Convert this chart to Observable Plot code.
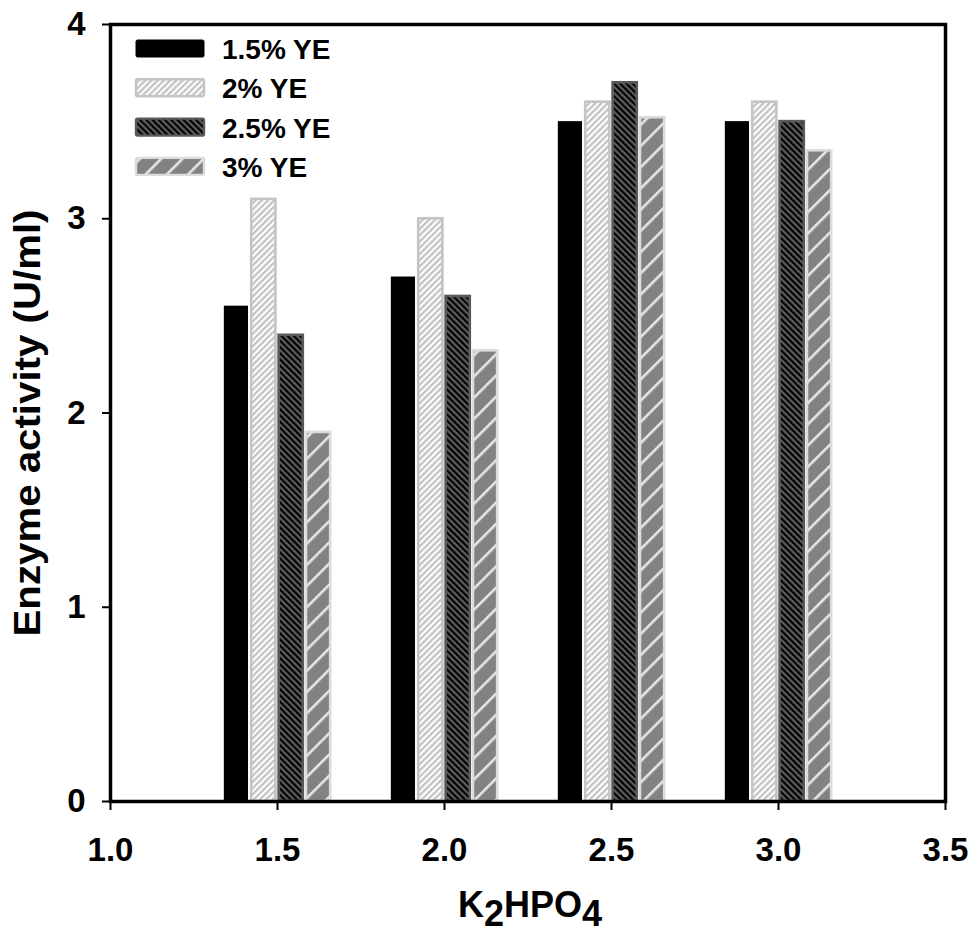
<!DOCTYPE html>
<html>
<head>
<meta charset="utf-8">
<script src="https://cdn.jsdelivr.net/npm/d3@7"></script>
<script src="https://cdn.jsdelivr.net/npm/@observablehq/plot@0.6"></script>
<style>
  html, body { margin: 0; padding: 0; background: #fff; }
  #chart svg { display: block; }
</style>
</head>
<body>
<div id="chart"></div>
<script>
// ---- data ----
const k2hpo4 = [1.5, 2.0, 2.5, 3.0];
const seriesNames = ["1.5% YE", "2% YE", "2.5% YE", "3% YE"];
const ye15 = [2.55, 2.70, 3.50, 3.50];
const ye2 = [3.10, 3.00, 3.60, 3.60];
const ye25 = [2.40, 2.60, 3.70, 3.50];
const ye3 = [1.90, 2.32, 3.52, 3.35];
const yTicks = [0, 1, 2, 3, 4];
const xTicks = [1.0, 1.5, 2.0, 2.5, 3.0, 3.5];

const seriesValues = [ye15, ye2, ye25, ye3];
const fills = ["#000000", "url(#pat2)", "url(#pat25)", "url(#pat3)"];
const strokes = ["none", "#c4c4c4", "#5a5a5a", "#dcdcdc"];

const slot = 0.082;
const rows = [];
seriesNames.forEach((s, i) => {
  k2hpo4.forEach((x, j) => {
    const x1 = x - 2 * slot + i * slot;
    rows.push({series: s, si: i, x, x1, x2: x1 + slot, y: seriesValues[i][j]});
  });
});

const font = "'Liberation Sans', Arial, Helvetica, sans-serif";

const barMarks = seriesNames.map((s, i) =>
  Plot.rectY(rows.filter(d => d.si === i), {
    x1: "x1", x2: "x2", y1: 0, y2: "y",
    fill: fills[i],
    stroke: strokes[i],
    strokeWidth: i === 0 ? 0 : 2.6,
    insetLeft: 1.6, insetRight: 1.6
  })
);

const svg = Plot.plot({
  width: 974,
  height: 938,
  marginLeft: 110,
  marginRight: 29,
  marginTop: 24,
  marginBottom: 137,
  style: {fontFamily: font, fontSize: "33px", fontWeight: "bold", background: "#fff", color: "#000"},
  x: {domain: [1.0, 3.5]},
  y: {domain: [0, 4]},
  marks: [
    ...barMarks,
    Plot.frame({stroke: "#000", strokeWidth: 3.5}),
    Plot.axisY({ticks: yTicks, tickFormat: d3.format("d"), tickSize: 8, tickPadding: 17,
      fontSize: 33, fontWeight: "bold", strokeWidth: 2, label: null}),
    Plot.axisX({ticks: xTicks, tickFormat: d3.format(".1f"), tickSize: 9, tickPadding: 27,
      fontSize: 33, fontWeight: "bold", strokeWidth: 2, label: null})
  ]
});

// ---- patterns ----
const root = d3.select(svg);
const defs = root.insert("defs", ":first-child");
const p2 = defs.append("pattern").attr("id", "pat2").attr("patternUnits", "userSpaceOnUse")
  .attr("width", 4.4).attr("height", 4.4).attr("patternTransform", "rotate(45)");
p2.append("rect").attr("width", 4.4).attr("height", 4.4).attr("fill", "#ffffff");
p2.append("rect").attr("width", 2.3).attr("height", 4.4).attr("fill", "#c4c4c4");

const p25 = defs.append("pattern").attr("id", "pat25").attr("patternUnits", "userSpaceOnUse")
  .attr("width", 4.4).attr("height", 4.4).attr("patternTransform", "rotate(-45)");
p25.append("rect").attr("width", 4.4).attr("height", 4.4).attr("fill", "#5c5c5c");
p25.append("rect").attr("width", 2.1).attr("height", 4.4).attr("fill", "#000000");

const p3 = defs.append("pattern").attr("id", "pat3").attr("patternUnits", "userSpaceOnUse")
  .attr("width", 15).attr("height", 15).attr("patternTransform", "rotate(45)");
p3.append("rect").attr("width", 15).attr("height", 15).attr("fill", "#828282");
p3.append("rect").attr("width", 2.6).attr("height", 15).attr("fill", "#e6e6e6");

// ---- legend ----
const lg = root.append("g").attr("font-family", font).attr("text-anchor", "start");
seriesNames.forEach((s, i) => {
  const y = 40 + i * 39.3;
  lg.append("rect").attr("x", 136).attr("y", y).attr("width", 68).attr("height", 17)
    .attr("rx", 1.5)
    .attr("fill", fills[i]).attr("stroke", i === 0 ? "#000" : strokes[i])
    .attr("stroke-width", i === 0 ? 1 : 2.4);
  lg.append("text").attr("x", 222).attr("y", y + 19).attr("font-size", 28)
    .attr("font-weight", "bold").attr("text-anchor", "start").attr("fill", "#000").text(s);
});

// ---- axis titles ----
root.append("text")
  .attr("transform", "translate(40,423) rotate(-90)")
  .attr("text-anchor", "middle")
  .attr("font-family", font).attr("font-size", 36).attr("font-weight", "bold")
  .attr("textLength", 427).attr("lengthAdjust", "spacingAndGlyphs")
  .attr("fill", "#000")
  .text("Enzyme activity (U/ml)");

const xt = root.append("text")
  .attr("x", 530).attr("y", 917)
  .attr("text-anchor", "middle")
  .attr("font-family", font).attr("font-size", 36).attr("font-weight", "bold")
  .attr("fill", "#000");
xt.append("tspan").text("K");
xt.append("tspan").attr("dy", 9).text("2");
xt.append("tspan").attr("dy", -9).text("HPO");
xt.append("tspan").attr("dy", 9).text("4");

document.getElementById("chart").appendChild(svg);
</script>
</body>
</html>
